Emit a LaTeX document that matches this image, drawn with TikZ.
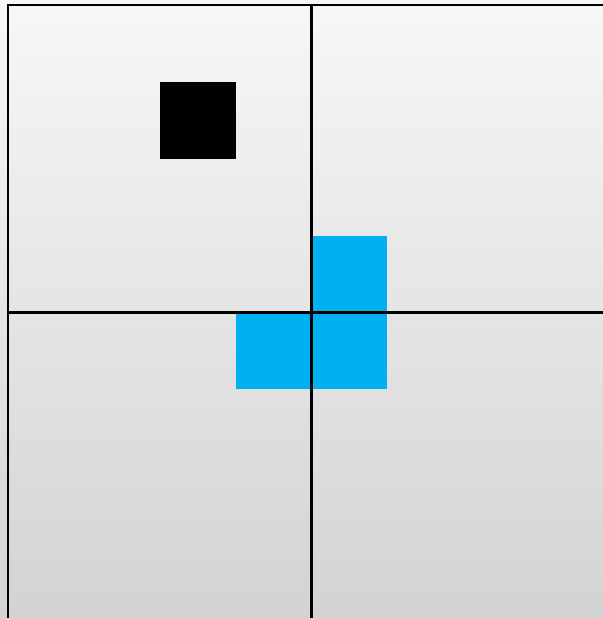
\documentclass[tikz,border=0pt]{standalone}
\definecolor{cellblue}{RGB}{0,176,240}
\definecolor{bgtop}{RGB}{247,247,247}
\definecolor{bgbottom}{RGB}{211,211,211}

\begin{document}
\begin{tikzpicture}[
  x=0.01cm, y=-0.01cm,
  gridline/.style={line width=0.85pt, black},
  bluecell/.style={fill=cellblue},
  blackcell/.style={fill=black}
]

\def\gX{8}
\def\gY{5}
\def\cW{75.85}
\def\cH{76.85}

\shade[top color=bgtop, bottom color=bgbottom] (0,0) rectangle (603,618);
\useasboundingbox (0,0) rectangle (603,618);

% filled cells (column/row)
\fill[blackcell] ({\gX+2*\cW},{\gY+1*\cH}) rectangle ++(\cW,\cH);
\foreach \c/\r in {4/3, 3/4, 4/4}
  \fill[bluecell] ({\gX+\c*\cW},{\gY+\r*\cH}) rectangle ++(\cW,\cH);

% quadrant lines
\draw[gridline] (\gX,618) -- (\gX,\gY) -- (603,\gY);
\draw[gridline] ({\gX+4*\cW},\gY) -- ({\gX+4*\cW},618);
\draw[gridline] (\gX,{\gY+4*\cH}) -- (603,{\gY+4*\cH});

\end{tikzpicture}
\end{document}
